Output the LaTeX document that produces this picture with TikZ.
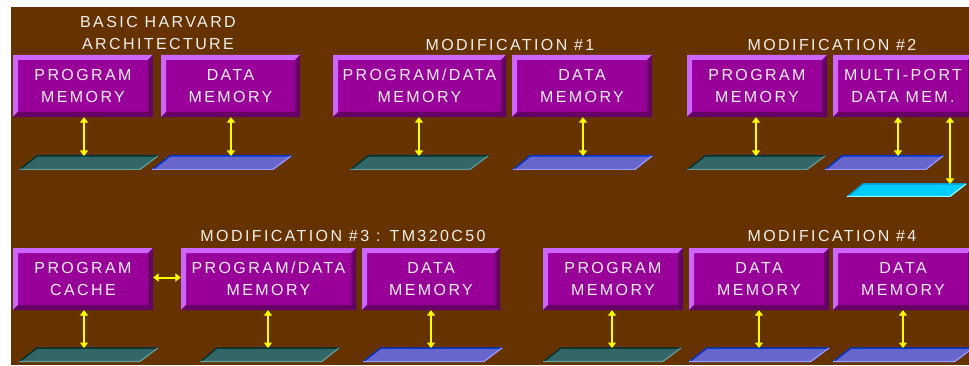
\documentclass[tikz,border=0pt]{standalone}
\usepackage{fontspec}
\newfontfamily\labelfont{Liberation Sans}[LetterSpace=15]
\usetikzlibrary{arrows.meta}

\definecolor{bgbrown}{HTML}{663300}
\definecolor{boxface}{HTML}{990099}
\definecolor{boxlight}{HTML}{CC66FF}
\definecolor{boxdark}{HTML}{660066}
\definecolor{labeltext}{HTML}{F0F0F0}
\definecolor{busgreen}{HTML}{336666}
\definecolor{busgreentop}{HTML}{003333}
\definecolor{busgreenlow}{HTML}{669999}
\definecolor{busblue}{HTML}{6666CC}
\definecolor{busbluetop}{HTML}{0033CC}
\definecolor{busbluelow}{HTML}{9999FF}
\definecolor{buscyan}{HTML}{00CCFF}
\definecolor{buscyantop}{HTML}{0099CC}
\definecolor{buscyanlow}{HTML}{99FFFF}
\definecolor{arrowyellow}{HTML}{FFFF00}

% bus plate: fill, top edge, lower edge, top-left x, top y, width, height, skew
\newcommand\busbar[8]{%
  \fill[#1] (#4,#5) -- ++(#6,0) -- ++(-#8,#7) -- ++(-#6,0) -- cycle;
  \draw[#2,line width=1.5pt,line join=round] (#4-#8,#5+#7) -- (#4,#5) -- ++(#6,0);
  \draw[#3,line width=1.2pt,line join=round] (#4-#8,#5+#7-0.6) -- ++(#6,0) -- (#4+#6,#5);
}

\tikzset{
  membox/.style={fill=boxface, inner sep=0pt, text=labeltext, align=center,
    font={\labelfont\fontsize{16}{21.5}\selectfont}, minimum height=62pt,
    path picture={
      \fill[boxlight] (path picture bounding box.north west)
        -- (path picture bounding box.north east)
        -- ([shift={(-5pt,-5pt)}]path picture bounding box.north east)
        -- ([shift={(5pt,-5pt)}]path picture bounding box.north west)
        -- ([shift={(5pt,5pt)}]path picture bounding box.south west)
        -- (path picture bounding box.south west) -- cycle;
      \fill[boxdark] (path picture bounding box.north east)
        -- (path picture bounding box.south east)
        -- (path picture bounding box.south west)
        -- ([shift={(5pt,5pt)}]path picture bounding box.south west)
        -- ([shift={(-5pt,5pt)}]path picture bounding box.south east)
        -- ([shift={(-5pt,-5pt)}]path picture bounding box.north east) -- cycle;
    }},
  heading/.style={text=labeltext, inner sep=0pt, anchor=base,
    font={\labelfont\fontsize{16}{21.5}\selectfont}},
  dbl/.style={draw=arrowyellow, line width=2pt,
    arrows={Triangle[width=8pt,length=5.5pt]-Triangle[width=8pt,length=5.5pt]}}
}

\begin{document}
\begin{tikzpicture}[x=1pt,y=-1pt]
\useasboundingbox (0,0) rectangle (969,366);
\fill[white] (0,0) rectangle (969,366);
\fill[bgbrown] (11,7) rectangle (969,365);

\begin{scope}
\clip (11,7) rectangle (969,365);

% headings
\node[heading] (h0a) at (158,28) {BASIC HARVARD};
\node[heading] (h0b) at (158,50) {ARCHITECTURE};
\node[heading] (h1) at (510,51) {MODIFICATION \#1};
\node[heading] (h2) at (832,51) {MODIFICATION \#2};
\node[heading] (h3) at (343,241) {MODIFICATION \#3 : TM320C50};
\node[heading] (h4) at (832,241) {MODIFICATION \#4};

% upper row of memories
\node[membox, minimum width=140pt] (B1) at (83,86)    {PROGRAM\\MEMORY};
\node[membox, minimum width=139pt] (B2) at (230.5,86) {DATA\\MEMORY};
\node[membox, minimum width=173pt] (B3) at (419.5,86) {PROGRAM/DATA\\MEMORY};
\node[membox, minimum width=140pt] (B4) at (582,86)   {DATA\\MEMORY};
\node[membox, minimum width=140pt] (B5) at (757,86)   {PROGRAM\\MEMORY};
\node[membox, minimum width=140pt] (B6) at (903,86)   {MULTI-PORT\\DATA MEM.};

% lower row of memories
\node[membox, minimum width=140pt] (C1) at (83,279)    {PROGRAM\\CACHE};
\node[membox, minimum width=175pt] (C2) at (268.5,279) {PROGRAM/DATA\\MEMORY};
\node[membox, minimum width=138pt] (C3) at (431,279)   {DATA\\MEMORY};
\node[membox, minimum width=140pt] (C4) at (613,279)   {PROGRAM\\MEMORY};
\node[membox, minimum width=140pt] (C5) at (759,279)   {DATA\\MEMORY};
\node[membox, minimum width=140pt] (C6) at (903,279)   {DATA\\MEMORY};

% buses, upper row
\busbar{busgreen}{busgreentop}{busgreenlow}{37}{156}{121}{14}{18}
\busbar{busblue}{busbluetop}{busbluelow}{170}{156}{121}{14}{18}
\busbar{busgreen}{busgreentop}{busgreenlow}{368}{156}{120}{14}{18}
\busbar{busblue}{busbluetop}{busbluelow}{530}{156}{122}{14}{17}
\busbar{busgreen}{busgreentop}{busgreenlow}{705}{156}{120}{14}{18}
\busbar{busblue}{busbluetop}{busbluelow}{842}{156}{101}{14}{17}
\busbar{buscyan}{buscyantop}{buscyanlow}{863}{184}{103}{13}{16}

% buses, lower row
\busbar{busgreen}{busgreentop}{busgreenlow}{37}{348}{121}{14}{18}
\busbar{busgreen}{busgreentop}{busgreenlow}{217}{348}{122}{14}{17}
\busbar{busblue}{busbluetop}{busbluelow}{381}{348}{121}{14}{18}
\busbar{busgreen}{busgreentop}{busgreenlow}{561}{348}{120}{14}{18}
\busbar{busblue}{busbluetop}{busbluelow}{707}{348}{122}{14}{18}
\busbar{busblue}{busbluetop}{busbluelow}{851}{348}{122}{14}{18}

% bus attachment points
\coordinate (p1) at (84,156);
\coordinate (p2) at (231,156);
\coordinate (p3) at (419,156);
\coordinate (p4) at (583,156);
\coordinate (p5) at (756,156);
\coordinate (p6) at (898,156);
\coordinate (p7) at (950,184);
\coordinate (q1) at (84,348);
\coordinate (q2) at (268,348);
\coordinate (q3) at (431,348);
\coordinate (q4) at (612,348);
\coordinate (q5) at (759,348);
\coordinate (q6) at (903,348);

% memory <-> bus links
\draw[dbl] (B1.south -| p1) -- (p1);
\draw[dbl] (B2.south -| p2) -- (p2);
\draw[dbl] (B3.south -| p3) -- (p3);
\draw[dbl] (B4.south -| p4) -- (p4);
\draw[dbl] (B5.south -| p5) -- (p5);
\draw[dbl] (B6.south -| p6) -- (p6);
\draw[dbl] (B6.south -| p7) -- (p7);
\draw[dbl] (C1.south -| q1) -- (q1);
\draw[dbl] (C2.south -| q2) -- (q2);
\draw[dbl] (C3.south -| q3) -- (q3);
\draw[dbl] (C4.south -| q4) -- (q4);
\draw[dbl] (C5.south -| q5) -- (q5);
\draw[dbl] (C6.south -| q6) -- (q6);

% cache <-> memory link
\draw[dbl] ([yshift=1.5pt]C1.east) -- ([yshift=1.5pt]C2.west);
\end{scope}
\end{tikzpicture}
\end{document}
